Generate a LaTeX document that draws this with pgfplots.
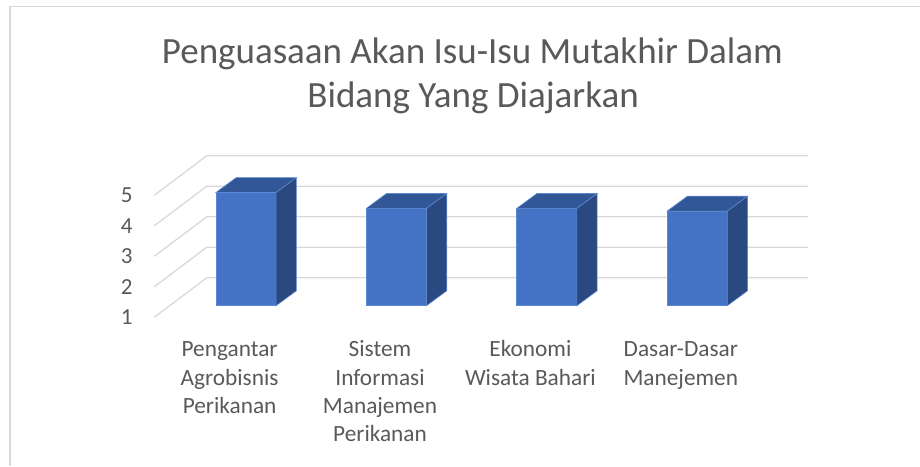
\documentclass[border=0pt]{standalone}
\usepackage{pgfplots}
\pgfplotsset{compat=1.18}
\usepackage{fontspec}
\setmainfont{Carlito}
\definecolor{txt}{HTML}{595959}
\definecolor{gridc}{HTML}{D9D9D9}
\definecolor{bfront}{HTML}{4472C4}
\definecolor{btop}{HTML}{325796}
\definecolor{bside}{HTML}{2A4980}
\definecolor{bedge}{HTML}{5E88D2}
\newcommand{\fl}{\rule{0pt}{20pt}}
\begin{document}
\begin{tikzpicture}
\begin{axis}[
  x=150.4pt, y=30.5pt,
  xmin=-0.61, xmax=3.737, ymin=0.62, ymax=6,
  clip=false,
  axis line style={draw=none},
  major tick length=0pt,
  xtick={-0.109,0.891,1.891,2.891},
  xticklabels={\fl Pengantar\\Agrobisnis\\Perikanan, \fl Sistem\\Informasi\\Manajemen\\Perikanan, \fl Ekonomi\\Wisata Bahari, \fl Dasar-Dasar\\Manejemen},
  xticklabel style={align=center, anchor=north, inner sep=0pt, yshift=-19.4pt, font=\fontsize{23.3}{28.3}\selectfont, text=txt},
  ytick={0.62,1.62,2.62,3.62,4.62},
  yticklabels={1,2,3,4,5},
  yticklabel style={anchor=east, inner sep=0pt, xshift=-21.6pt, font=\fontsize{23}{28}\selectfont, text=txt},
]
% outer frame
\draw[gridc, line width=1.5pt] (axis cs:-1.5691,-4.256) -- (axis cs:-1.5691,10.803) -- (axis cs:4.4814,10.803);
% title
\node[anchor=base, text=txt, font=\fontsize{37}{40}\selectfont, inner sep=0pt] at (axis cs:1.505,8.925) {Penguasaan Akan Isu-Isu Mutakhir Dalam};
\node[anchor=base, text=txt, font=\fontsize{37}{40}\selectfont, inner sep=0pt] at (axis cs:1.51,7.498) {Bidang Yang Diajarkan};
% 3D gridlines (side wall + back wall)
\addplot[gridc, line width=1.3pt] coordinates {(-0.61,0.62) (-0.261,1.915) (3.737,1.915)};
\addplot[gridc, line width=1.3pt] coordinates {(-0.61,1.62) (-0.261,2.915) (3.737,2.915)};
\addplot[gridc, line width=1.3pt] coordinates {(-0.61,2.62) (-0.261,3.915) (3.737,3.915)};
\addplot[gridc, line width=1.3pt] coordinates {(-0.61,3.62) (-0.261,4.915) (3.737,4.915)};
\addplot[gridc, line width=1.3pt] coordinates {(-0.61,4.62) (-0.261,5.915) (3.737,5.915)};
% bars: values 4.71, 4.19, 4.19, 4.10 (front face from 1 to value)
% bar 1
\addplot[fill=bfront, draw=bedge, line width=0.6pt] coordinates {(-0.2,1) (0.2,1) (0.2,4.71) (-0.2,4.71)} -- cycle;
\addplot[fill=btop, draw=bedge, line width=0.6pt] coordinates {(-0.2,4.71) (0.2,4.71) (0.335,5.20) (-0.065,5.20)} -- cycle;
\addplot[fill=bside, draw=bedge, line width=0.6pt] coordinates {(0.2,1) (0.335,1.49) (0.335,5.20) (0.2,4.71)} -- cycle;
% bar 2
\addplot[fill=bfront, draw=bedge, line width=0.6pt] coordinates {(0.8,1) (1.2,1) (1.2,4.19) (0.8,4.19)} -- cycle;
\addplot[fill=btop, draw=bedge, line width=0.6pt] coordinates {(0.8,4.19) (1.2,4.19) (1.335,4.68) (0.935,4.68)} -- cycle;
\addplot[fill=bside, draw=bedge, line width=0.6pt] coordinates {(1.2,1) (1.335,1.49) (1.335,4.68) (1.2,4.19)} -- cycle;
% bar 3
\addplot[fill=bfront, draw=bedge, line width=0.6pt] coordinates {(1.8,1) (2.2,1) (2.2,4.19) (1.8,4.19)} -- cycle;
\addplot[fill=btop, draw=bedge, line width=0.6pt] coordinates {(1.8,4.19) (2.2,4.19) (2.335,4.68) (1.935,4.68)} -- cycle;
\addplot[fill=bside, draw=bedge, line width=0.6pt] coordinates {(2.2,1) (2.335,1.49) (2.335,4.68) (2.2,4.19)} -- cycle;
% bar 4
\addplot[fill=bfront, draw=bedge, line width=0.6pt] coordinates {(2.8,1) (3.2,1) (3.2,4.10) (2.8,4.10)} -- cycle;
\addplot[fill=btop, draw=bedge, line width=0.6pt] coordinates {(2.8,4.10) (3.2,4.10) (3.335,4.59) (2.935,4.59)} -- cycle;
\addplot[fill=bside, draw=bedge, line width=0.6pt] coordinates {(3.2,1) (3.335,1.49) (3.335,4.59) (3.2,4.10)} -- cycle;
% bounding box corners (0,466) and (920,0) in reference pixels
\coordinate (bbl) at (axis cs:-1.6356,-4.256);
\coordinate (btr) at (axis cs:4.4814,11.023);
\end{axis}
\pgfresetboundingbox
\path[use as bounding box] (bbl) rectangle (btr);
\end{tikzpicture}
\end{document}
